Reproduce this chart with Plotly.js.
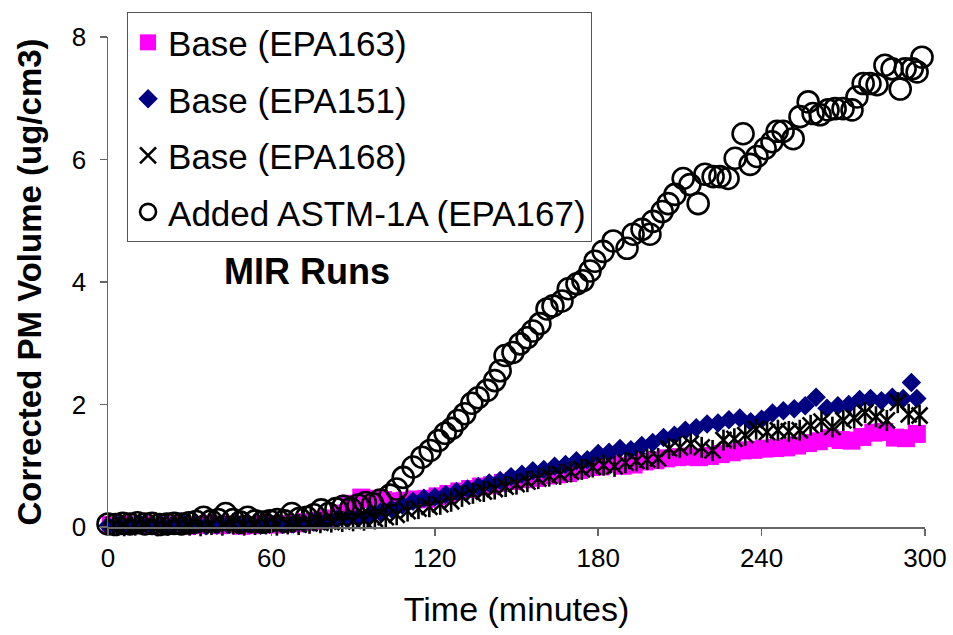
<!DOCTYPE html>
<html>
<head>
<meta charset="utf-8">
<script src="https://cdn.plot.ly/plotly-3.0.1.min.js"></script>
<style>html,body{margin:0;padding:0;background:#fff;}#chart{width:953px;height:635px;}</style>
</head>
<body>
<div id="chart"></div>
<script>
// ---- Data ----
var seriesNames = ["Base (EPA163)", "Base (EPA151)", "Base (EPA168)", "Added ASTM-1A (EPA167)"];
var xTicks = [0, 60, 120, 180, 240, 300];
var yTicks = [0, 2, 4, 6, 8];

var tEPA163 = [1,5,9,13,17,21,25,29,33,37,41,45,49,53,57,61,65,69,73,77,81,85,89,93,97,101,105,109,113,117,121,125,129,133,137,141,145,149,153,157,161,165,169,173,177,181,185,189,193,197,201,205,209,213,217,221,225,229,233,237,241,245,249,253,257,261,265,269,273,277,281,285,289,293,297];
var vEPA163 = [0.03,0.02,0.04,0.03,0.02,0.03,0.04,0.02,0.03,0.05,0.03,0.04,0.02,0.03,0.05,0.04,0.05,0.06,0.08,0.10,0.14,0.22,0.38,0.48,0.46,0.44,0.42,0.43,0.45,0.46,0.50,0.54,0.58,0.62,0.66,0.68,0.72,0.75,0.78,0.80,0.84,0.86,0.88,0.93,0.98,0.99,1.04,1.00,1.02,1.07,1.09,1.12,1.14,1.15,1.14,1.16,1.19,1.22,1.25,1.26,1.28,1.29,1.30,1.33,1.37,1.40,1.45,1.42,1.41,1.47,1.54,1.55,1.46,1.45,1.52];

var tEPA151 = [0,4,8,12,16,20,24,28,32,36,40,44,48,52,56,60,64,68,72,76,80,84,88,92,96,100,104,108,112,116,120,124,128,132,136,140,144,148,152,156,160,164,168,172,176,180,184,188,192,196,200,204,208,212,216,220,224,228,232,236,240,244,248,252,256,260,264,268,272,276,280,284,288,292,295,297];
var vEPA151 = [0.02,0.03,0.02,0.04,0.03,0.02,0.03,0.04,0.03,0.02,0.03,0.04,0.03,0.04,0.03,0.05,0.04,0.05,0.06,0.08,0.10,0.12,0.14,0.16,0.20,0.24,0.30,0.36,0.42,0.47,0.49,0.53,0.58,0.62,0.66,0.72,0.76,0.82,0.86,0.92,0.94,0.99,1.02,1.08,1.10,1.20,1.22,1.28,1.26,1.33,1.38,1.46,1.50,1.58,1.62,1.68,1.70,1.75,1.78,1.72,1.76,1.86,1.90,1.93,1.98,2.12,1.94,1.98,2.00,2.08,2.10,2.06,2.12,2.10,2.36,2.10];

var tEPA168 = [2,6,10,14,18,22,26,30,34,38,42,46,50,54,58,62,66,70,74,78,82,86,90,94,98,102,106,110,114,118,122,126,130,134,138,142,146,150,154,158,162,166,170,174,178,182,186,190,194,198,202,206,210,214,218,222,226,230,234,238,242,246,250,254,258,262,266,270,274,278,282,286,290,294,298];
var vEPA168 = [0.03,0.02,0.03,0.04,0.02,0.03,0.04,0.03,0.02,0.04,0.03,0.05,0.03,0.04,0.05,0.03,0.05,0.04,0.06,0.07,0.08,0.09,0.10,0.11,0.13,0.16,0.20,0.26,0.30,0.33,0.37,0.42,0.50,0.55,0.58,0.62,0.66,0.70,0.74,0.79,0.83,0.86,0.90,0.94,0.98,1.01,0.99,1.05,1.08,1.10,1.12,1.28,1.30,1.36,1.30,1.25,1.42,1.44,1.50,1.60,1.55,1.58,1.56,1.58,1.66,1.72,1.63,1.74,1.78,1.87,1.80,1.74,2.03,1.84,1.82];

var tEPA167 = [0,2.7,5.4,8.1,10.8,13.5,16.2,18.9,21.6,24.3,27,29.7,32.4,35.1,37.8,40.5,43.2,45.9,48.6,51.3,54,56.7,59.4,62.1,64.8,67.5,70.2,72.9,75.6,78.3,81,83.7,86.4,89.1,91.8,94.5,97.2,99.9,103.6,106,108.4,112,115.3,118.3,121.3,123.8,126.3,128.5,131,133.6,135.9,139.2,142,144,145.8,148.7,151.3,153.9,156,158.6,161.2,163.4,166.7,169,172.2,174.4,177,178.8,181.8,185.5,190.6,192.8,196.1,199,200.1,203.5,205.7,208.2,211.2,213.7,216.7,219.2,222.2,224.7,227.7,230.3,233.2,235.8,238.3,241.3,243.8,245.7,247.9,251.6,254.1,257.1,258.9,261.5,264.4,267,269.9,273.2,275,277.3,279.8,282.4,285.3,287.9,290.9,292.7,295.3,297.1,298.9];
var vEPA167 = [0.05,0.04,0.06,0.05,0.07,0.05,0.06,0.04,0.05,0.06,0.05,0.07,0.09,0.16,0.10,0.12,0.22,0.12,0.08,0.16,0.10,0.08,0.10,0.12,0.10,0.22,0.14,0.16,0.20,0.28,0.22,0.30,0.34,0.30,0.36,0.40,0.38,0.44,0.52,0.62,0.81,0.98,1.14,1.25,1.41,1.53,1.61,1.74,1.85,2.02,2.11,2.23,2.39,2.55,2.80,2.85,2.99,3.09,3.20,3.32,3.56,3.61,3.69,3.89,3.97,4.02,4.18,4.34,4.50,4.67,4.55,4.78,4.86,4.78,4.99,5.15,5.28,5.43,5.69,5.59,5.28,5.76,5.72,5.72,5.69,6.02,6.42,5.92,6.05,6.18,6.29,6.46,6.46,6.34,6.70,6.94,6.75,6.73,6.81,6.83,6.83,6.81,7.02,7.24,7.24,7.22,7.54,7.48,7.15,7.48,7.48,7.43,7.67];

// ---- Traces ----
var FONT = "Liberation Sans, Arial, sans-serif";
var traces = [
  {x: tEPA163, y: vEPA163, name: seriesNames[0], type: "scatter", mode: "markers", cliponaxis: false,
   legendgroup: "g1",
   marker: {symbol: "square", size: 18, color: "#FF00FF", line: {width: 0}}},
  {x: tEPA151, y: vEPA151, name: seriesNames[1], type: "scatter", mode: "markers", cliponaxis: false,
   legendgroup: "g2",
   marker: {symbol: "diamond", size: 15, color: "#000080", line: {width: 0}}},
  {x: tEPA168, y: vEPA168, name: seriesNames[2], type: "scatter", mode: "markers", cliponaxis: false,
   legendgroup: "g3", showlegend: false, hoverinfo: "skip",
   marker: {symbol: "line-ns-open", size: 15, color: "#000000", line: {width: 2.6, color: "#000000"}}},
  {x: tEPA168, y: vEPA168, name: seriesNames[2], type: "scatter", mode: "markers", cliponaxis: false,
   legendgroup: "g3",
   marker: {symbol: "x-thin-open", size: 16, color: "#000000", line: {width: 2.6, color: "#000000"}}},
  {x: tEPA167, y: vEPA167, name: seriesNames[3], type: "scatter", mode: "markers", cliponaxis: false,
   legendgroup: "g4",
   marker: {symbol: "circle-open", size: 21, color: "#000000", line: {width: 2.6, color: "#000000"}}}
];

var layout = {
  width: 953, height: 635,
  margin: {l: 108, r: 28, t: 35, b: 108, pad: 0},
  paper_bgcolor: "#ffffff", plot_bgcolor: "#ffffff",
  font: {family: FONT, color: "#000000"},
  showlegend: true,
  legend: {
    x: 0.0233, y: 1.0508, xanchor: "left", yanchor: "top",
    bgcolor: "#ffffff", bordercolor: "#555555", borderwidth: 1,
    font: {family: FONT, size: 35, color: "#000000"},
    tracegroupgap: 8, itemsizing: "trace"
  },
  xaxis: {
    range: [0, 300], tickvals: xTicks, ticktext: xTicks.map(String),
    showgrid: false, zeroline: false, showline: true, linecolor: "#666666", linewidth: 1.5,
    ticks: "outside", ticklen: 7, tickwidth: 1.5, tickcolor: "#666666",
    tickfont: {family: FONT, size: 26, color: "#000000"},
    title: {text: "Time (minutes)", font: {family: FONT, size: 34, color: "#000000"}, standoff: 25},
    fixedrange: true
  },
  yaxis: {
    range: [0, 8], tickvals: yTicks, ticktext: yTicks.map(String),
    showgrid: false, zeroline: false, showline: true, linecolor: "#666666", linewidth: 1.5,
    ticks: "outside", ticklen: 7, tickwidth: 1.5, tickcolor: "#666666",
    tickfont: {family: FONT, size: 26, color: "#000000"},
    ticklabelstandoff: 8,
    title: {text: "<b>Corrected PM Volume (ug/cm3)</b>", font: {family: FONT, size: 33, color: "#000000"}, standoff: 20},
    fixedrange: true
  },
  annotations: [{
    text: "<b>MIR Runs</b>", xref: "paper", yref: "paper", x: 0.2436, y: 0.5224,
    xanchor: "center", yanchor: "middle", showarrow: false,
    font: {family: FONT, size: 36, color: "#000000"}
  }]
};

Plotly.newPlot("chart", traces, layout, {displayModeBar: false, staticPlot: true});
</script>
</body>
</html>
